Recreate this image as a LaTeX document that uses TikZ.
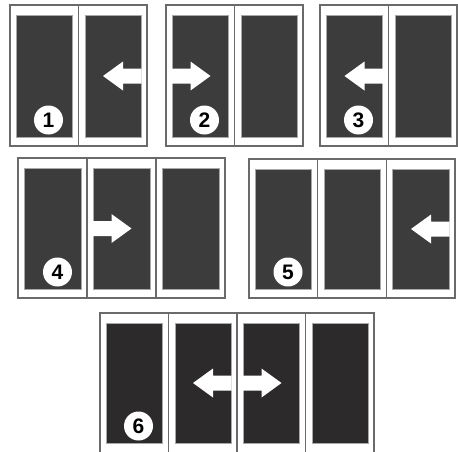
\documentclass[tikz,border=0pt]{standalone}
\usepackage{fontspec}
\newfontfamily\numfont{Liberation Sans}
\definecolor{darkpane}{HTML}{3C3C3C}
\definecolor{darkpanesix}{HTML}{2D2A2B}
\definecolor{frameline}{HTML}{6A6A6A}
\definecolor{paneedge}{HTML}{A8A8A8}
\tikzset{
  frame/.style={draw=frameline, line width=1.3pt},
  pane/.style={draw=paneedge, line width=0.9pt},
  numdisc/.style={circle, fill=white, minimum size=29pt, inner sep=0pt,
    font=\numfont\bfseries\fontsize{21}{21}\selectfont},
  arrowfill/.style={fill=white}
}
% #1 x0, #2 y0 (top), #3 y1 (bottom of frame), #4 number of sections, #5 section width
\newcommand{\mkframe}[5]{%
  \draw[frame] (#1,#2) rectangle ({#1+#4*#5},#3);
  \foreach \i in {1,...,#4}{\draw[frame] ({#1+\i*#5},#2) -- ({#1+\i*#5},#3);}
}
% #1 x0, #2 top of pane, #3 bottom of pane, #4 n, #5 w, #6 colour
\newcommand{\mkpanes}[6]{%
  \foreach \i in {1,...,#4}{%
    \path[pane, fill=#6] ({#1+(\i-1)*#5+6.5},#2) rectangle ({#1+\i*#5-6},#3);}
}
% arrows: #1 base x (pane edge), #2 centre y
\newcommand{\leftarr}[2]{%
  \fill[arrowfill] (#1,#2) ++(0.5,-7.5) -- ++(-18.5,0) -- ++(0,-7) -- ++(-20,14.5)
    -- ++(20,14.5) -- ++(0,-7) -- ++(18.5,0) -- cycle;}
\newcommand{\rightarr}[2]{%
  \fill[arrowfill] (#1,#2) ++(-0.5,-7.5) -- ++(18.5,0) -- ++(0,-7) -- ++(20,14.5)
    -- ++(-20,14.5) -- ++(0,-7) -- ++(-18.5,0) -- cycle;}
\begin{document}
\begin{tikzpicture}[x=1pt, y=-1pt]
\useasboundingbox (0,0) rectangle (458,451);
% ---------- panel 1 ----------
\mkframe{10}{5}{146}{2}{68.5}
\mkpanes{10}{15}{137}{2}{68.5}{darkpane}
\leftarr{141}{76}
\node[numdisc] (c1) at (48.5,120) {1};
% ---------- panel 2 ----------
\mkframe{166}{5}{146}{2}{68.5}
\mkpanes{166}{15}{137}{2}{68.5}{darkpane}
\rightarr{172.5}{76}
\node[numdisc] (c2) at (204.5,120) {2};
% ---------- panel 3 ----------
\mkframe{320}{5}{146}{2}{68.5}
\mkpanes{320}{15}{137}{2}{68.5}{darkpane}
\leftarr{382.5}{76}
\node[numdisc] (c3) at (358.5,120) {3};
% ---------- panel 4 ----------
\mkframe{18}{158}{298}{3}{69}
\mkpanes{18}{168}{289}{3}{69}{darkpane}
\rightarr{93.5}{228.5}
\node[numdisc] (c4) at (57.5,272) {4};
% ---------- panel 5 ----------
\mkframe{249}{159}{298}{3}{68.67}
\mkpanes{249}{169}{289}{3}{68.67}{darkpane}
\leftarr{449}{229}
\node[numdisc] (c5) at (288,272) {5};
% ---------- panel 6 (open at the bottom) ----------
\draw[frame] (100,452) -- (100,313) -- (374,313) -- (374,452);
\foreach \i in {1,2,3}{\draw[frame] ({100+\i*68.5},313) -- ({100+\i*68.5},452);}
\mkpanes{100}{323}{443}{4}{68.5}{darkpanesix}
\leftarr{231}{383}
\rightarr{243.5}{383}
\node[numdisc] (c6) at (138.5,426) {6};
\end{tikzpicture}
\end{document}
